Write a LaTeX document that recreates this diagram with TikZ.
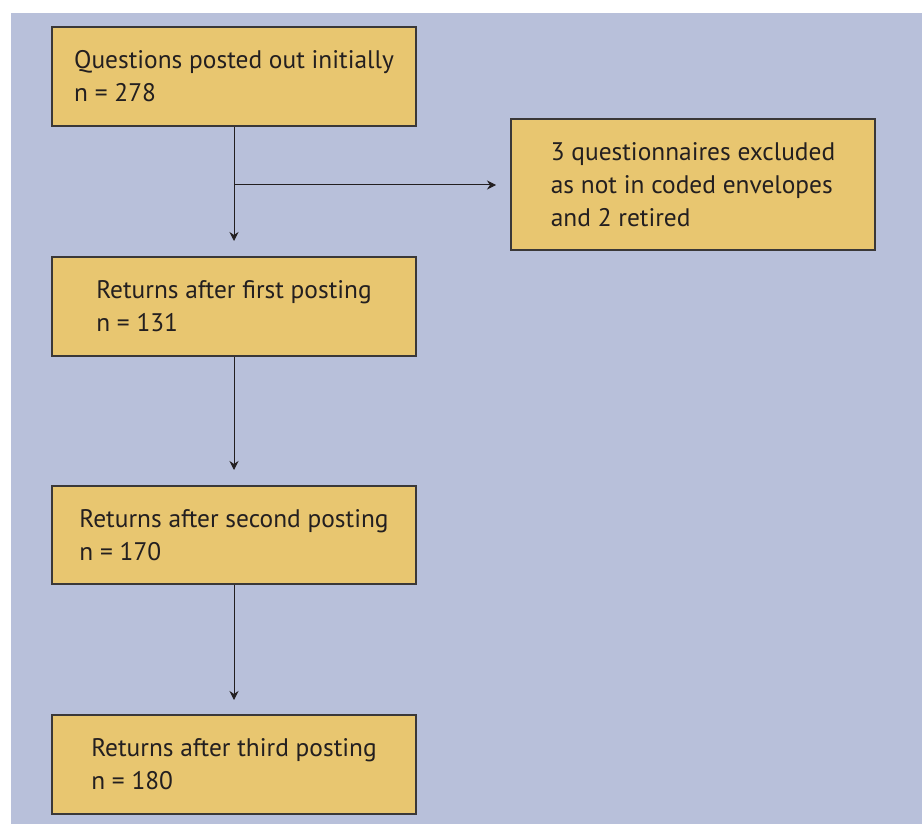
\documentclass[tikz,border=0pt]{standalone}
\usepackage{fontspec}
\setmainfont{PT Sans}
\usetikzlibrary{arrows.meta}
\definecolor{bgblue}{HTML}{B8C0DA}
\definecolor{boxfill}{HTML}{E8C670}
\definecolor{boxline}{HTML}{3A3838}
\definecolor{ink}{HTML}{231F20}
\tikzset{
  x=1pt, y=-1pt,
  flowbox/.style={draw=boxline, line width=1.2pt, fill=boxfill, minimum width=364pt,
    inner sep=0pt, align=left, text=ink,
    font={\fontsize{25.4}{33}\selectfont}},
  flowarrow/.style={draw=ink, line width=1pt, -{Stealth[length=9pt,width=9pt]}}
}
\begin{document}
\begin{tikzpicture}
\useasboundingbox (0,0) rectangle (922,824);
\fill[white] (0,0) rectangle (922,824);
\fill[bgblue] (11,13) rectangle (922,824);
\node[flowbox, minimum height=99pt] (b1) at (234,76.5) {Questions posted out initially\\n = 278};
\node[flowbox, minimum height=131pt] (ex) at (693,184.5) {3 questionnaires excluded\\as not in coded envelopes\\and 2 retired};
\node[flowbox, minimum height=99pt] (b2) at (234,306.5) {Returns after first posting\\n = 131};
\node[flowbox, minimum height=98pt] (b3) at (234,535) {Returns after second posting\\n = 170};
\node[flowbox, minimum height=99pt] (b4) at (234,764.5) {Returns after third posting\\n = 180};
\coordinate (j) at (234,185);
\coordinate (t1) at (234,241);
\coordinate (t2) at (496,185);
\coordinate (t3) at (234,470);
\coordinate (t4) at (234,700);
\draw[draw=ink, line width=1pt] (b1.south) -- (j);
\draw[flowarrow] (j) -- (t1);
\draw[flowarrow] (j) -- (t2);
\draw[flowarrow] (b2.south) -- (t3);
\draw[flowarrow] (b3.south) -- (t4);
\end{tikzpicture}
\end{document}
